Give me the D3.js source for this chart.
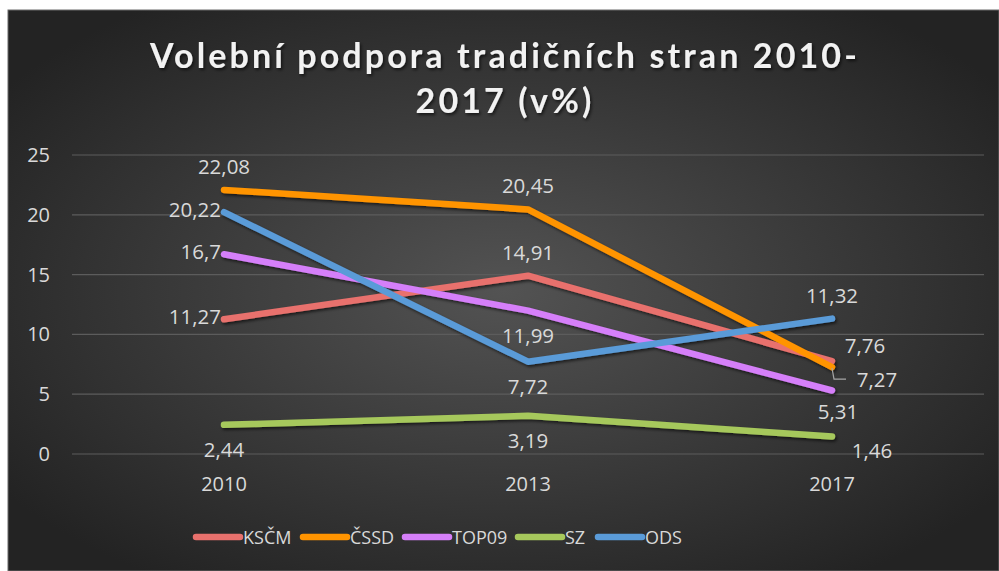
<!DOCTYPE html>
<html>
<head>
<meta charset="utf-8">
<script src="https://cdn.jsdelivr.net/npm/d3@7"></script>
<style>
  body { margin: 0; background: #fff; }
  svg { display: block; }
</style>
</head>
<body>
<svg width="999" height="571"></svg>
<script>
var years = ["2010", "2013", "2017"];
var parties = ["KSČM", "ČSSD", "TOP09", "SZ", "ODS"];
var colors = ["#e8716d", "#ff9400", "#d57ff9", "#a6c85c", "#5a9bd8"];
var kscm = [11.27, 14.91, 7.76];
var cssd = [22.08, 20.45, 7.27];
var top09 = [16.7, 11.99, 5.31];
var sz = [2.44, 3.19, 1.46];
var ods = [20.22, 7.72, 11.32];
var yTicks = [0, 5, 10, 15, 20, 25];

// where each data label sits relative to its point
var labelPos = [
  ["left", "above", "aboveRight"],
  ["above", "above", "leader"],
  ["left", "below", "below"],
  ["below", "below", "belowRight"],
  ["left", "below", "above"]
];

var seriesValues = [kscm, cssd, top09, sz, ods];

var svg = d3.select("svg"),
    width = +svg.attr("width"),
    height = +svg.attr("height");

var defs = svg.append("defs");
var grad = defs.append("radialGradient")
    .attr("id", "bg")
    .attr("cx", "50%").attr("cy", "50%").attr("r", "62%");
grad.append("stop").attr("offset", "0%").attr("stop-color", "#535353");
grad.append("stop").attr("offset", "100%").attr("stop-color", "#232323");

var shadow = defs.append("filter").attr("id", "shadow")
    .attr("x", "-10%").attr("y", "-10%").attr("width", "130%").attr("height", "140%");
shadow.append("feDropShadow")
    .attr("dx", 1.5).attr("dy", 2).attr("stdDeviation", 1.5)
    .attr("flood-color", "#000").attr("flood-opacity", 0.6);

svg.append("rect")
    .attr("x", 8).attr("y", 10)
    .attr("width", width - 8).attr("height", height - 10)
    .attr("fill", "url(#bg)")
    .attr("stroke", "#6a6a6a").attr("stroke-width", 1);

// title
var title = svg.append("text")
    .attr("text-anchor", "middle")
    .attr("fill", "#f2f2f2")
    .attr("font-family", "Lato, 'Open Sans', sans-serif")
    .attr("font-weight", "bold")
    .attr("font-size", 34)
    .attr("letter-spacing", 3.1)
    .attr("filter", "url(#shadow)");
title.append("tspan").attr("x", 505).attr("y", 68).text("Volební podpora tradičních stran 2010-");
title.append("tspan").attr("x", 505).attr("y", 113).text("2017 (v%)");

var plotLeft = 72, plotRight = 984, plotTop = 155, plotBottom = 454;

var x = d3.scaleBand().domain(years).range([plotLeft, plotRight]);
var y = d3.scaleLinear().domain([0, 25]).range([plotBottom, plotTop]);
var cx = function(i) { return x(years[i]) + x.bandwidth() / 2; };

// gridlines
svg.append("g")
    .selectAll("line")
    .data(yTicks)
    .enter().append("line")
    .attr("x1", plotLeft).attr("x2", plotRight)
    .attr("y1", function(d) { return y(d); })
    .attr("y2", function(d) { return y(d); })
    .attr("stroke", "#5c5c5c")
    .attr("stroke-width", 1.2);

// y axis
var yAxis = svg.append("g")
    .attr("transform", "translate(" + plotLeft + ",0)")
    .call(d3.axisLeft(y).tickValues(yTicks).tickSize(0).tickPadding(22));
yAxis.select(".domain").remove();
yAxis.selectAll("text")
    .attr("fill", "#d9d9d9")
    .attr("font-family", "'Open Sans', sans-serif")
    .attr("font-size", 20);

// x axis
var xAxis = svg.append("g")
    .attr("transform", "translate(0," + plotBottom + ")")
    .call(d3.axisBottom(x).tickSize(0).tickPadding(23));
xAxis.select(".domain").remove();
xAxis.selectAll("text")
    .attr("fill", "#d9d9d9")
    .attr("font-family", "'Open Sans', sans-serif")
    .attr("font-size", 20);

var line = d3.line()
    .x(function(d, i) { return cx(i); })
    .y(function(d) { return y(d); });

var lines = svg.append("g").attr("filter", "url(#shadow)");
seriesValues.forEach(function(vals, s) {
  lines.append("path")
      .datum(vals)
      .attr("d", line)
      .attr("fill", "none")
      .attr("stroke", colors[s])
      .attr("stroke-width", 6.5)
      .attr("stroke-linecap", "round")
      .attr("stroke-linejoin", "round");
});

// data labels
var labels = svg.append("g")
    .attr("fill", "#d9d9d9")
    .attr("font-family", "'Open Sans', sans-serif")
    .attr("font-size", 20.5);

function fmt(v) { return String(v).replace(".", ","); }

seriesValues.forEach(function(vals, s) {
  vals.forEach(function(v, i) {
    var px = cx(i), py = y(v);
    var pos = labelPos[s][i];
    var t = labels.append("text").text(fmt(v)).attr("dominant-baseline", "central");
    if (pos === "left") {
      t.attr("x", px - 3).attr("y", py - 3).attr("text-anchor", "end");
    } else if (pos === "above") {
      t.attr("x", px).attr("y", py - 24).attr("text-anchor", "middle");
    } else if (pos === "below") {
      t.attr("x", px + (i === 2 ? 6 : 0)).attr("y", py + (i === 2 ? 21 : 24)).attr("text-anchor", "middle");
    } else if (pos === "aboveRight") {
      t.attr("x", px + 33).attr("y", py - 16).attr("text-anchor", "middle");
    } else if (pos === "belowRight") {
      t.attr("x", px + 40).attr("y", py + 13).attr("text-anchor", "middle");
    } else if (pos === "leader") {
      t.attr("x", px + 45).attr("y", py + 12).attr("text-anchor", "middle");
      labels.append("path")
          .attr("d", "M" + (px) + "," + (py + 1) + "L" + (px + 2) + "," + (py + 12) + "L" + (px + 14) + "," + (py + 12))
          .attr("fill", "none")
          .attr("stroke", "#a6a6a6")
          .attr("stroke-width", 1.2);
    }
  });
});

// legend
var legendX = [196, 303, 405, 518, 598];
var legend = svg.append("g");
parties.forEach(function(p, s) {
  var g = legend.append("g").attr("transform", "translate(" + legendX[s] + ",537)");
  g.append("line")
      .attr("x1", 0).attr("x2", 44)
      .attr("stroke", colors[s])
      .attr("stroke-width", 6.5)
      .attr("stroke-linecap", "round");
  g.append("text")
      .attr("x", 47)
      .attr("dominant-baseline", "central")
      .attr("fill", "#d9d9d9")
      .attr("font-family", "'Open Sans', sans-serif")
      .attr("font-size", 18)
      .text(p);
});
</script>
</body>
</html>
